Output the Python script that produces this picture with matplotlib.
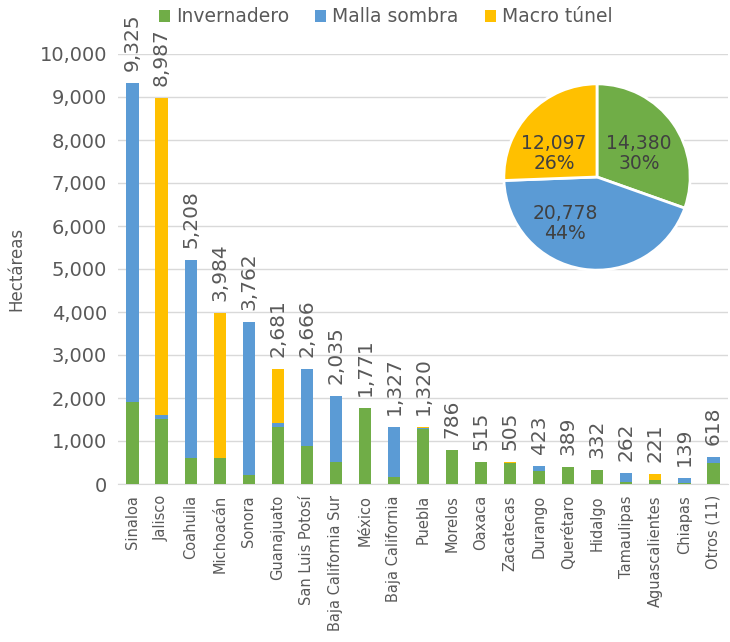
import matplotlib.pyplot as plt
import numpy as np

# data (hectares)
estados = ["Sinaloa", "Jalisco", "Coahuila", "Michoacán", "Sonora", "Guanajuato",
           "San Luis Potosí", "Baja California Sur", "México", "Baja California",
           "Puebla", "Morelos", "Oaxaca", "Zacatecas", "Durango", "Querétaro",
           "Hidalgo", "Tamaulipas", "Aguascalientes", "Chiapas", "Otros (11)"]
invernadero = [1900, 1520, 600, 600, 209, 1318, 876, 504, 1771, 163,
               1287, 786, 515, 495, 312, 389, 320, 55, 93, 20, 500]
malla_sombra = [7425, 95, 4608, 0, 3553, 108, 1790, 1531, 0, 1164,
                25, 0, 0, 0, 111, 0, 0, 200, 0, 119, 118]
macro_tunel = [0, 7372, 0, 3384, 0, 1255, 0, 0, 0, 0,
               8, 0, 0, 10, 0, 0, 12, 7, 128, 0, 0]
totales = [9325, 8987, 5208, 3984, 3762, 2681, 2666, 2035, 1771, 1327,
           1320, 786, 515, 505, 423, 389, 332, 262, 221, 139, 618]

pie_vals = [14380, 20778, 12097]
pie_pct = [30, 44, 26]

verde = "#70AD47"
azul = "#5B9BD5"
amarillo = "#FFC000"
gris = "#595959"

plt.rcParams['font.family'] = ['DejaVu Sans']

fig = plt.figure(figsize=(7.3, 6.42), dpi=100)
ax = fig.add_axes([118 / 730, 1 - 484 / 642, 610 / 730, 430 / 642])

x = np.arange(len(estados))
w = 0.42
inv = np.array(invernadero)
mal = np.array(malla_sombra)
mac = np.array(macro_tunel)
ax.bar(x, inv, w, color=verde, label="Invernadero", zorder=3)
ax.bar(x, mal, w, bottom=inv, color=azul, label="Malla sombra", zorder=3)
ax.bar(x, mac, w, bottom=inv + mal, color=amarillo, label="Macro túnel", zorder=3)

for xi, t, top in zip(x, totales, inv + mal + mac):
    ax.text(xi, top + 280, f"{t:,}", rotation=90, ha="center", va="bottom",
            fontsize=14.5, color=gris, clip_on=False)

ax.set_xlim(-0.5, len(estados) - 0.5)
ax.set_ylim(0, 10000)
ax.set_yticks(range(0, 10001, 1000))
ax.set_yticklabels([f"{v:,}" for v in range(0, 10001, 1000)], fontsize=14, color=gris)
ax.set_xticks(x)
ax.set_xticklabels(estados, rotation=90, fontsize=10.5, color=gris)
ax.tick_params(axis="y", length=0, pad=8)
ax.tick_params(axis="x", length=0, pad=8)
ax.grid(axis="y", color="#D9D9D9", linewidth=1, zorder=0)
for s in ["top", "right", "left"]:
    ax.spines[s].set_visible(False)
ax.spines["bottom"].set_color("#D9D9D9")
ax.set_ylabel("Hectáreas", fontsize=12, color=gris, labelpad=10)

fig.legend(loc="upper left", bbox_to_anchor=(142 / 730, 1.015), ncol=3, frameon=False,
           fontsize=13.5, handlelength=0.6, handleheight=0.6, handletextpad=0.3,
           columnspacing=1.4, labelcolor=gris)

# pie inset
pax = fig.add_axes([502 / 730, 1 - 272 / 642, 190 / 730, 190 / 642])
wedges, _ = pax.pie(pie_vals, colors=[verde, azul, amarillo], startangle=90,
                    counterclock=False, wedgeprops=dict(edgecolor="white", linewidth=2))
pax.set_xlim(-1.02, 1.02)
pax.set_ylim(-1.02, 1.02)
label_pos = [(0.45, 0.25), (-0.34, -0.5), (-0.46, 0.25)]
for (lx, ly), v, p in zip(label_pos, pie_vals, pie_pct):
    pax.text(lx, ly, f"{v:,}\n{p}%", ha="center", va="center", fontsize=13.5,
             color="#404040", linespacing=1.05)
pax.set_aspect("equal")

fig.savefig("out.png", dpi=100)
